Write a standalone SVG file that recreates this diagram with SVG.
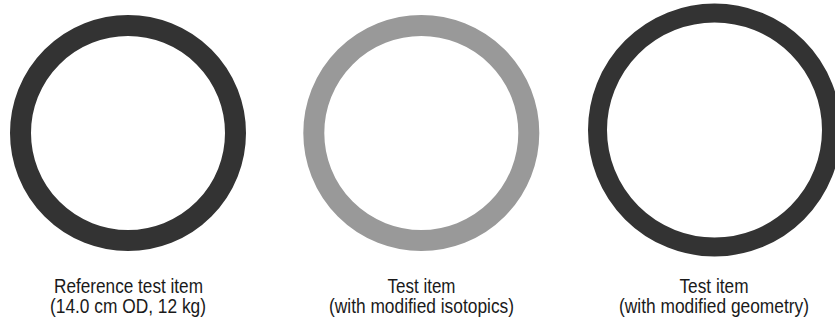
<svg xmlns="http://www.w3.org/2000/svg" width="835" height="322" viewBox="0 0 835 322">
<style>
.ring{fill:none}
.dark{stroke:#333333}
.grey{stroke:#999999}
.lbl{font-family:"Liberation Sans",Arial,sans-serif;font-size:19.5px;fill:#1a1a1a;text-anchor:middle}
</style>
<rect width="835" height="322" fill="#ffffff"/>
<g id="ref-item">
<circle class="ring dark" cx="128" cy="133" r="107.5" stroke-width="21"/>
<text class="lbl" x="128.5" y="292.5" textLength="149" lengthAdjust="spacingAndGlyphs">Reference test item</text>
<text class="lbl" x="128" y="313" textLength="156" lengthAdjust="spacingAndGlyphs">(14.0 cm OD, 12 kg)</text>
</g>
<g id="isotopics-item">
<circle class="ring grey" cx="421.3" cy="133" r="107.5" stroke-width="21"/>
<text class="lbl" x="421.5" y="292.5" textLength="68" lengthAdjust="spacingAndGlyphs">Test item</text>
<text class="lbl" x="421.5" y="313" textLength="185" lengthAdjust="spacingAndGlyphs">(with modified isotopics)</text>
</g>
<g id="geometry-item">
<circle class="ring dark" cx="714.5" cy="130" r="117" stroke-width="19"/>
<text class="lbl" x="714" y="292.5" textLength="69" lengthAdjust="spacingAndGlyphs">Test item</text>
<text class="lbl" x="714" y="313" textLength="190" lengthAdjust="spacingAndGlyphs">(with modified geometry)</text>
</g>
<g id="connectors"></g>
</svg>
